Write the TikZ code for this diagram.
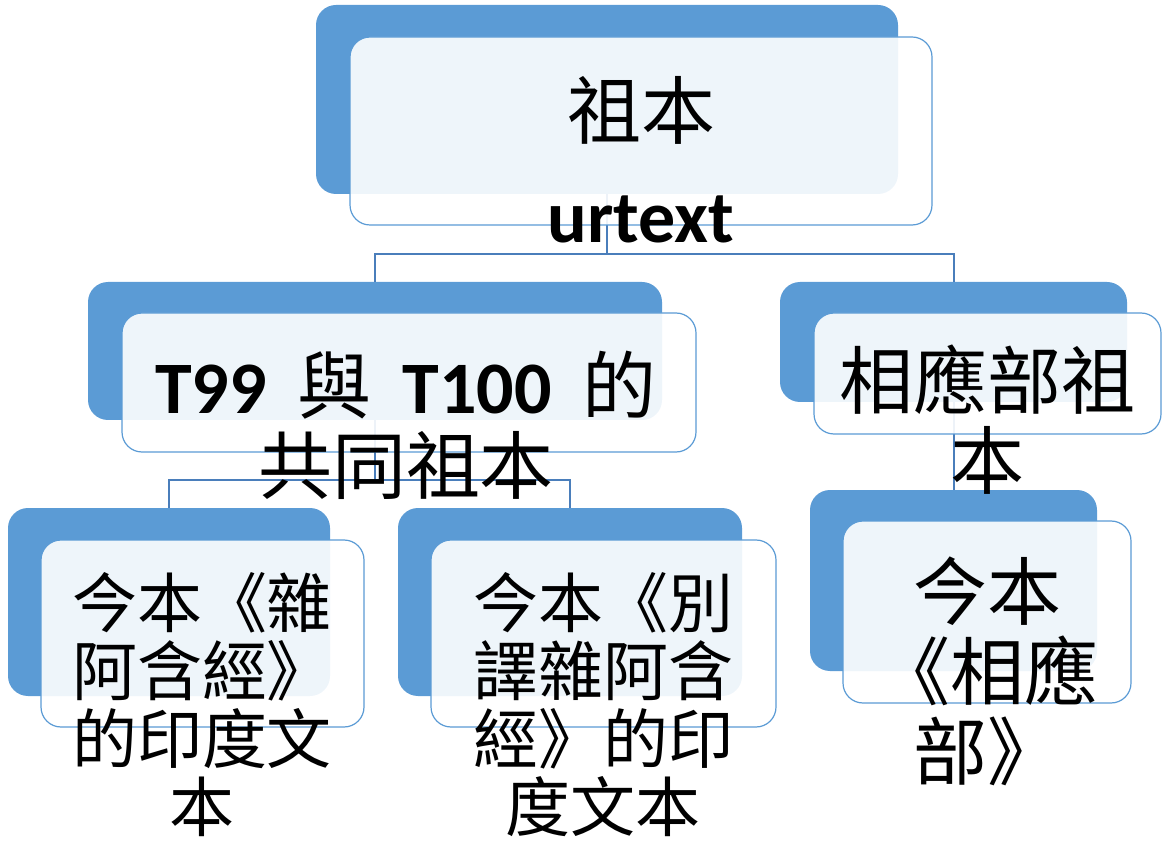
\documentclass[tikz,border=0pt]{standalone}
\usepackage{fontspec}
\setmainfont{Carlito}
\newfontfamily\cjk{Noto Sans CJK TC}
\definecolor{bluefill}{HTML}{5B9BD5}
\definecolor{conncol}{HTML}{4A7EBB}
\begin{document}
\begin{tikzpicture}[x=1pt,y=-1pt,
  back/.style={fill=bluefill, rounded corners=20pt, inner sep=0pt, outer sep=0pt},
  front/.style={fill=white, fill opacity=0.9, draw=bluefill, line width=1.2pt, rounded corners=20pt, inner sep=0pt, outer sep=0pt},
  conn/.style={draw=conncol, line width=2pt},
  big/.style={font=\cjk\fontsize{74}{80}\selectfont, align=center, inner sep=0pt},
  small/.style={font=\cjk\fontsize{65}{68}\selectfont, align=center, inner sep=0pt},
  lat/.style={font=\bfseries\fontsize{74}{80}\selectfont, inner sep=0pt}]
\useasboundingbox (0,0) rectangle (1163,842);
% back boxes
\node[back, minimum width=582pt, minimum height=189pt] (b0) at (607,99.5) {};
\node[back, minimum width=574pt, minimum height=138pt] (b1) at (375,351) {};
\node[back, minimum width=347pt, minimum height=120pt] (b2) at (953.5,342) {};
\node[back, minimum width=322pt, minimum height=188pt] (b3) at (169,602) {};
\node[back, minimum width=344pt, minimum height=188pt] (b4) at (570,602) {};
\node[back, minimum width=287pt, minimum height=181pt] (b5) at (953.5,580.5) {};
% connectors
\coordinate (j0) at (b0.south |- 0,254);
\coordinate (j1) at (b1.south |- 0,480);
\draw[conn] (b0.south) -- (j0) -| (b1.north);
\draw[conn] (j0) -| (b2.north);
\draw[conn] (b1.south) -- (j1) -| (b3.north);
\draw[conn] (j1) -| (b4.north);
\draw[conn] (b2.south) -- (b5.north);
% front boxes
\node[front, minimum width=582pt, minimum height=188pt] (f0) at (641,131) {};
\node[front, minimum width=574pt, minimum height=139pt] (f1) at (409,382.5) {};
\node[front, minimum width=347pt, minimum height=121pt] (f2) at (987.5,373.5) {};
\node[front, minimum width=323pt, minimum height=187pt] (f3) at (202.5,633.5) {};
\node[front, minimum width=345pt, minimum height=187pt] (f4) at (603.5,633.5) {};
\node[front, minimum width=288pt, minimum height=182pt] (f5) at (987,612) {};
% texts
\node[big] (t0) at (641,110) {祖本};
\node[lat, anchor=base] (t0u) at (641,243) {urtext};
\node[big] (t1) at (406,425) {{\rmfamily\bfseries T99}\hspace{31pt}與\hspace{31pt}{\rmfamily\bfseries T100}\hspace{31pt}的\\共同祖本};
\node[big] (t2) at (987,420) {相應部祖\\本};
\node[small] (t3) at (202,705) {今本《雜\\阿含經》\\的印度文\\本};
\node[small] (t4) at (603,705) {今本《別\\譯雜阿含\\經》的印\\度文本};
\node[big] (t5) at (987,671) {今本\\《相應\\部》};
\end{tikzpicture}
\end{document}
